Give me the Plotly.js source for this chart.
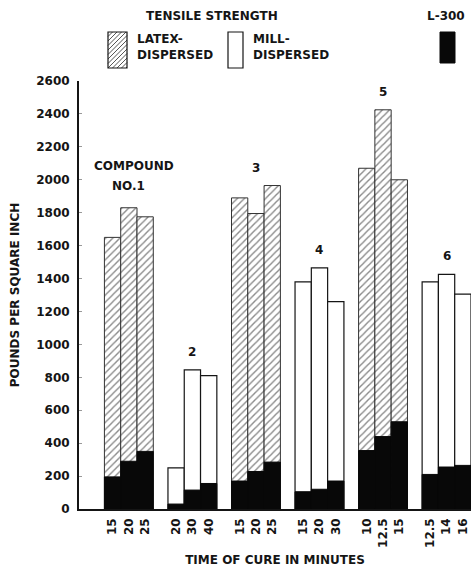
<!DOCTYPE html>
<html>
<head>
<meta charset="utf-8">
<script src="https://cdn.plot.ly/plotly-3.0.1.min.js"></script>
<style>html,body{margin:0;padding:0;background:#fff;}#chart{width:472px;height:567px;}</style>
</head>
<body>
<div id="chart"></div>
<script>
// ---- data ----
const compoundLabels = ["NO.1", "2", "3", "4", "5", "6"];
const dispersion = ["latex", "mill", "latex", "mill", "latex", "mill"];
const cureTimes = [
  ["15", "20", "25"],
  ["20", "30", "40"],
  ["15", "20", "25"],
  ["15", "20", "30"],
  ["10", "12.5", "15"],
  ["12.5", "14", "16"]
];
const tensileStrength = [
  [1650, 1830, 1775],
  [250, 845, 810],
  [1890, 1795, 1965],
  [1380, 1465, 1260],
  [2070, 2425, 2000],
  [1380, 1425, 1305]
];
const l300 = [
  [195, 290, 350],
  [30, 115, 155],
  [170, 228, 285],
  [105, 120, 170],
  [355, 440, 530],
  [210, 255, 265]
];
const yTicks = [0, 200, 400, 600, 800, 1000, 1200, 1400, 1600, 1800, 2000, 2200, 2400, 2600];

// ---- layout helpers (styling / positions) ----
const GROUP_STEP = 3.9;
const FONT = "DejaVu Sans";
const INK = "#151515";
const M = {l: 79, r: 1, t: 81, b: 58};
const W = 472, H = 567;
const PW = W - M.l - M.r, PH = H - M.t - M.b;
const px = x => (x - M.l) / PW;
const py = y => (H - M.b - y) / PH;

const pos = (g, i) => g * GROUP_STEP + i;

const latexX = [], latexY = [], millX = [], millY = [], lX = [], lY = [];
const tickVals = [], tickText = [];
for (let g = 0; g < compoundLabels.length; g++) {
  for (let i = 0; i < 3; i++) {
    const x = pos(g, i);
    if (dispersion[g] === "latex") { latexX.push(x); latexY.push(tensileStrength[g][i]); }
    else { millX.push(x); millY.push(tensileStrength[g][i]); }
    lX.push(x); lY.push(l300[g][i]);
    tickVals.push(x); tickText.push(cureTimes[g][i]);
  }
}

const traces = [
  {
    type: "bar", name: "Latex-dispersed", x: latexX, y: latexY, width: 1,
    marker: {color: "#ffffff", line: {color: "#333", width: 1},
      pattern: {shape: "/", fgcolor: "#8a8a8a", bgcolor: "#ffffff", size: 5, solidity: 0.28}},
    hoverinfo: "y"
  },
  {
    type: "bar", name: "Mill-dispersed", x: millX, y: millY, width: 1,
    marker: {color: "#ffffff", line: {color: INK, width: 1.2}},
    hoverinfo: "y"
  },
  {
    type: "bar", name: "L-300", x: lX, y: lY, width: 1,
    marker: {color: "#080808", line: {color: "#080808", width: 1}},
    hoverinfo: "y"
  }
];

const labelFont = {family: FONT, size: 12, color: INK, weight: "bold"};
const tickFont = {family: FONT, size: 12, color: INK, weight: "bold"};

const annotations = [];
for (let g = 0; g < compoundLabels.length; g++) {
  annotations.push({
    x: pos(g, 1), y: Math.max(...tensileStrength[g]), xref: "x", yref: "y",
    text: compoundLabels[g], showarrow: false, yanchor: "bottom", yshift: g === 0 ? 13 : 9,
    font: labelFont
  });
}
annotations.push({
  x: pos(0, 1) + 0.3, y: Math.max(...tensileStrength[0]), xref: "x", yref: "y",
  text: "COMPOUND", showarrow: false, yanchor: "bottom", yshift: 33, font: labelFont
});
// legend texts
annotations.push({x: px(212), y: py(16), xref: "paper", yref: "paper", text: "TENSILE STRENGTH",
  showarrow: false, xanchor: "center", yanchor: "middle", font: labelFont});
annotations.push({x: px(446), y: py(16), xref: "paper", yref: "paper", text: "L-300",
  showarrow: false, xanchor: "center", yanchor: "middle", font: labelFont});
annotations.push({x: px(135), y: py(47), xref: "paper", yref: "paper", text: "LATEX-<br>DISPERSED",
  showarrow: false, xanchor: "left", yanchor: "middle", align: "left", font: labelFont});
annotations.push({x: px(251), y: py(47), xref: "paper", yref: "paper", text: "MILL-<br>DISPERSED",
  showarrow: false, xanchor: "left", yanchor: "middle", align: "left", font: labelFont});

// legend swatches
function hatchPath(x0, y0, x1, y1, step) {
  let d = "";
  for (let c = x0 + y0 + step; c < x1 + y1; c += step) {
    const xa = Math.max(x0, c - y1), xb = Math.min(x1, c - y0);
    if (xa < xb) {
      d += `M${px(xa)},${py(c - xa)}L${px(xb)},${py(c - xb)}`;
    }
  }
  return d;
}
const shapes = [
  {type: "path", xref: "paper", yref: "paper", path: hatchPath(108, 32, 127, 68, 4.5),
    line: {color: "#555", width: 1}},
  {type: "rect", xref: "paper", yref: "paper", x0: px(108), x1: px(127), y0: py(68), y1: py(32),
    line: {color: INK, width: 1.2}},
  {type: "rect", xref: "paper", yref: "paper", x0: px(228), x1: px(243), y0: py(68), y1: py(32),
    line: {color: INK, width: 1.2}, fillcolor: "rgba(0,0,0,0)"},
  {type: "rect", xref: "paper", yref: "paper", x0: px(440), x1: px(455), y0: py(63), y1: py(32),
    line: {color: "#080808", width: 1}, fillcolor: "#080808"}
];

const layout = {
  width: W, height: H,
  margin: M,
  paper_bgcolor: "#ffffff", plot_bgcolor: "#ffffff",
  barmode: "overlay",
  bargap: 0,
  showlegend: false,
  font: {family: FONT, color: INK},
  xaxis: {
    range: [-2.06, 22.0],
    tickvals: tickVals, ticktext: tickText, tickangle: -90,
    tickfont: tickFont,
    ticklabelstandoff: 3,
    showline: true, linecolor: INK, linewidth: 1.5,
    ticks: "", showgrid: false, zeroline: false,
    title: {text: "TIME OF CURE IN MINUTES", font: labelFont, standoff: 10}
  },
  yaxis: {
    range: [0, 2600],
    tickvals: yTicks,
    tickfont: tickFont,
    showline: true, linecolor: INK, linewidth: 2,
    ticks: "inside", ticklen: 3, tickcolor: "#999",
    ticklabelstandoff: 5,
    showgrid: false, zeroline: false,
    title: {text: "POUNDS PER SQUARE INCH", font: labelFont, standoff: 14}
  },
  annotations: annotations,
  shapes: shapes
};

Plotly.newPlot("chart", traces, layout, {displayModeBar: false, staticPlot: true});
</script>
</body>
</html>
